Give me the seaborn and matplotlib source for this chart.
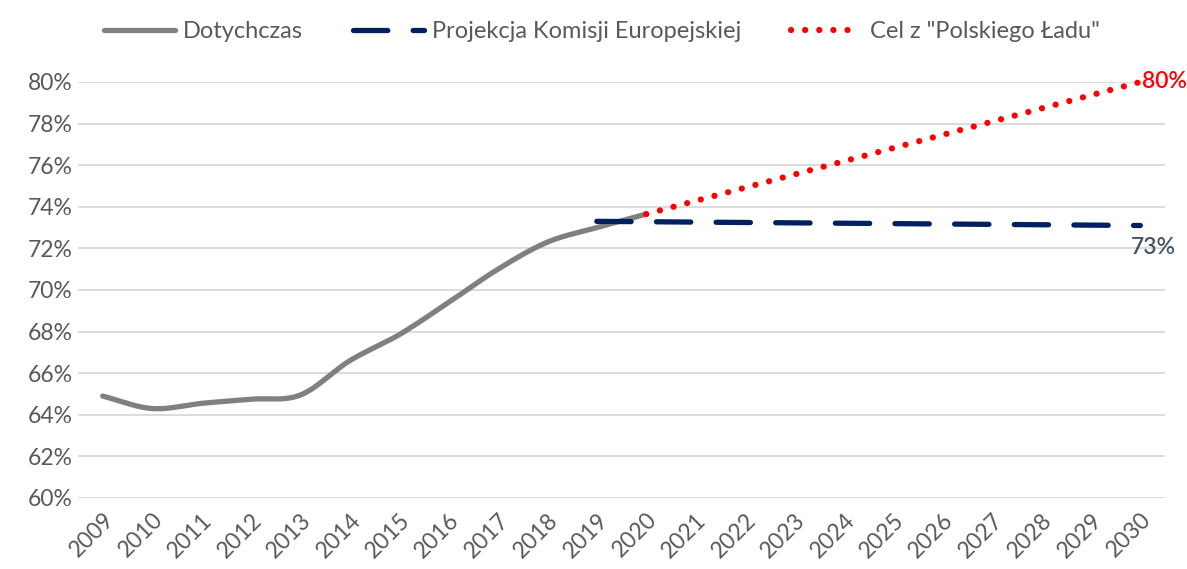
import numpy as np
import pandas as pd
import matplotlib
matplotlib.use("Agg")
import matplotlib.pyplot as plt
import seaborn as sns

sns.set_theme(style="white")
plt.rcParams['font.family'] = ['Lato', 'DejaVu Sans']

# dane
years_hist = [2009, 2010, 2011, 2012, 2013, 2014, 2015, 2016, 2017, 2018, 2019, 2020]
rate_hist = [64.9, 64.3, 64.55, 64.75, 64.95, 66.6, 67.85, 69.4, 71.0, 72.3, 73.0, 73.65]

years_ke = [2019, 2030]
rate_ke = [73.3, 73.1]

years_goal = [2020, 2030]
rate_goal = [73.65, 80.0]

all_years = list(range(2009, 2031))
y_ticks = [60, 62, 64, 66, 68, 70, 72, 74, 76, 78, 80]

label_hist = "Dotychczas"
label_ke = "Projekcja Komisji Europejskiej"
label_goal = 'Cel z "Polskiego Ładu"'


# wygładzona linia jak w Excelu (Catmull-Rom)
def smooth(x, y, n=30):
    x = np.asarray(x, float)
    y = np.asarray(y, float)
    px = np.concatenate([[2 * x[0] - x[1]], x, [2 * x[-1] - x[-2]]])
    py = np.concatenate([[2 * y[0] - y[1]], y, [2 * y[-1] - y[-2]]])
    xs, ys = [], []
    t = np.linspace(0, 1, n, endpoint=False)
    for i in range(1, len(px) - 2):
        for p, out in ((px, xs), (py, ys)):
            p0, p1, p2, p3 = p[i - 1], p[i], p[i + 1], p[i + 2]
            out.extend(0.5 * (2 * p1 + (-p0 + p2) * t
                              + (2 * p0 - 5 * p1 + 4 * p2 - p3) * t ** 2
                              + (-p0 + 3 * p1 - 3 * p2 + p3) * t ** 3))
    xs.append(x[-1])
    ys.append(y[-1])
    return np.array(xs), np.array(ys)


sx, sy = smooth(years_hist, rate_hist)
df_hist = pd.DataFrame({"rok": sx, "wartosc": sy})
df_ke = pd.DataFrame({"rok": years_ke, "wartosc": rate_ke})
df_goal = pd.DataFrame({"rok": years_goal, "wartosc": rate_goal})

fig = plt.figure(figsize=(11.87, 5.69), dpi=100)
ax = fig.add_axes([0.0657, 0.1248, 0.9158, 0.7311])

sns.lineplot(data=df_hist, x="rok", y="wartosc", ax=ax, color="#808080",
             linewidth=3.8, label=label_hist, sort=False,
             solid_capstyle="round")
sns.lineplot(data=df_ke, x="rok", y="wartosc", ax=ax, color="#002060",
             linewidth=3.8, label=label_ke, dashes=False,
             linestyle=(0, (6.5, 4.8)), dash_capstyle="round")
sns.lineplot(data=df_goal, x="rok", y="wartosc", ax=ax, color="#FF0000",
             linewidth=4.5, label=label_goal, dashes=False,
             linestyle=(0, (0.01, 2.25)), dash_capstyle="round")

for line in ax.get_lines():
    line.set_clip_on(False)

ax.set_xlim(2008.5, 2030.5)
ax.set_ylim(60, 80)
ax.set_yticks(y_ticks)
ax.set_yticklabels([f"{v}%" for v in y_ticks])
ax.set_xticks(all_years)
ax.set_xticklabels([str(y) for y in all_years], rotation=45, ha="right",
                   rotation_mode="anchor")
ax.tick_params(axis="both", colors="#595959", labelsize=16.5, length=0)
ax.tick_params(axis="x", pad=8)
ax.tick_params(axis="y", pad=4)
ax.grid(axis="y", color="#D9D9D9", linewidth=1.3)
ax.set_axisbelow(True)
for s in ax.spines.values():
    s.set_visible(False)
ax.set_xlabel("")
ax.set_ylabel("")

ax.text(years_goal[-1] + 0.04, rate_goal[-1], f"{rate_goal[-1]:.0f}%",
        color="#FF0000", fontsize=16.5, fontweight="semibold",
        ha="left", va="center")
ax.text(years_ke[-1] + 0.73, rate_ke[-1] - 0.55, f"{rate_ke[-1]:.0f}%",
        color="#44546A", fontsize=16.5, fontweight="semibold",
        ha="right", va="top")

handles, labels = ax.get_legend_handles_labels()
ax.get_legend().remove()
fig.legend(handles, labels, loc="upper center", bbox_to_anchor=(0.507, 1.0),
           ncol=3, frameon=False, fontsize=17, labelcolor="#595959",
           handlelength=3.0, handletextpad=0.35, columnspacing=2.1)

fig.savefig("out.png", dpi=100)
